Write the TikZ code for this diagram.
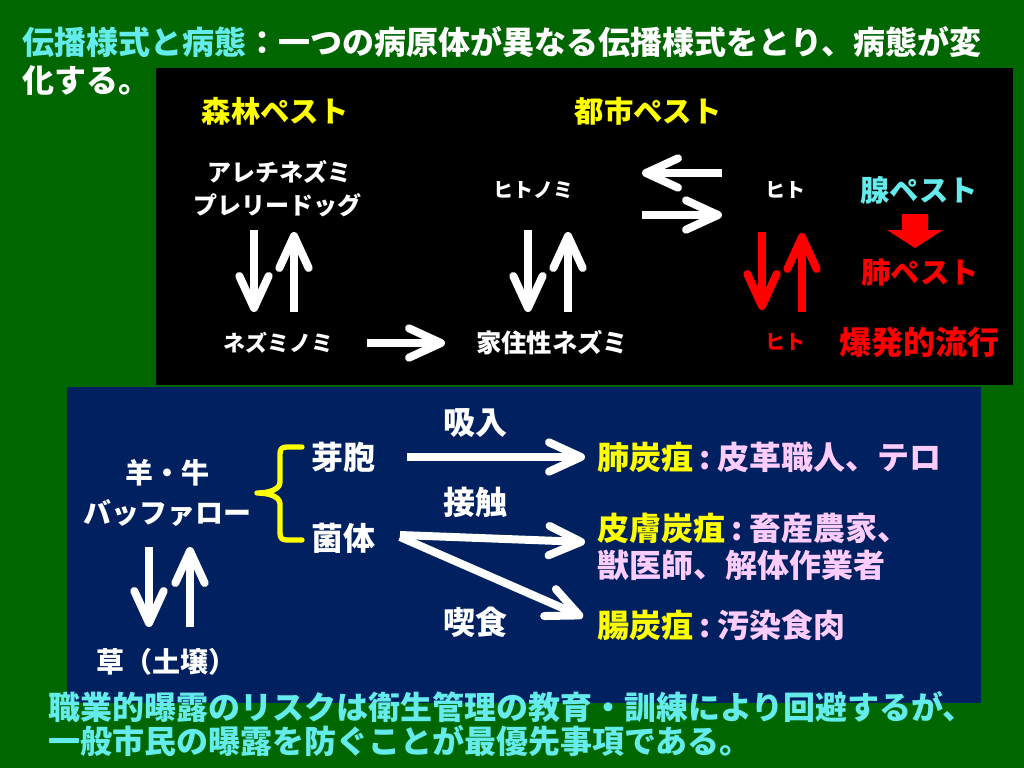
\documentclass[tikz,border=0pt]{standalone}
\usepackage{fontspec}
\setmainfont{Noto Sans CJK JP}
\usetikzlibrary{arrows.meta}
\definecolor{bggreen}{RGB}{0,102,0}
\definecolor{boxblue}{RGB}{0,32,96}
\definecolor{tcyan}{RGB}{100,235,235}
\definecolor{tpink}{RGB}{255,204,255}
\definecolor{tyellow}{RGB}{255,255,0}
\definecolor{tred}{RGB}{255,0,0}
\newcommand{\fsz}[1]{\fontsize{#1}{#1}\selectfont}
\tikzset{
  lbl/.style={inner sep=0pt, font=\bfseries, text=white},
  wa/.style={draw=white, line width=6pt, -{Straight Barb[length=24pt,width=22pt,round]}},
  ra/.style={wa, draw=tred},
  bracestyle/.style={draw=tyellow, line width=4pt, line cap=round, line join=round},
}
\begin{document}
\begin{tikzpicture}[x=0.75pt,y=-0.75pt]
\useasboundingbox (0,0) rectangle (1024,768);
\fill[bggreen] (0,0) rectangle (1024,768);
\fill[black] (156,68) rectangle (1013,385);
\fill[boxblue] (67,387) rectangle (981,703);

% title
\node[lbl, anchor=west] (t1) at (22,42) {\fsz{24pt}{\color{tcyan}伝播様式と病態}：一つの病原体が異なる伝播様式をとり、病態が変};
\node[lbl, anchor=west] (t2) at (22,80) {\fsz{24pt}化する。};

% upper box texts
\node[lbl, text=tyellow] (shinrin) at (275,111) {\fsz{22pt}森林ペスト};
\node[lbl, text=tyellow] (toshi) at (648,111) {\fsz{22pt}都市ペスト};
\node[lbl] (areti) at (279,172) {\fsz{18pt}アレチネズミ};
\node[lbl] (prairie) at (277,205) {\fsz{18pt}プレリードッグ};
\node[lbl] (hitonomi) at (533,190) {\fsz{15pt}ヒトノミ};
\node[lbl] (nezuminomi) at (278,343) {\fsz{16.5pt}ネズミノミ};
\node[lbl] (kaju) at (552,343) {\fsz{19pt}家住性ネズミ};
\node[lbl] (hito1) at (785,190) {\fsz{15pt}ヒト};
\node[lbl, text=tcyan] (sen) at (919,190) {\fsz{22pt}腺ペスト};
\node[lbl, text=tred] (hai) at (920,273) {\fsz{22pt}肺ペスト};
\node[lbl, text=tred] (hito2) at (785,342) {\fsz{15pt}ヒト};
\node[lbl, text=tred] (bakuhatsu) at (919,342) {\fsz{24pt}爆発的流行};

% arrow end points (upper)
\coordinate (a1s) at (254,230); \coordinate (a1e) at (254,312);
\coordinate (a2s) at (294,312); \coordinate (a2e) at (294,232);
\coordinate (a3s) at (528,230); \coordinate (a3e) at (528,312);
\coordinate (a4s) at (568,312); \coordinate (a4e) at (568,232);
\coordinate (a5s) at (367,343); \coordinate (a5e) at (445,343);
\coordinate (a6s) at (722,173); \coordinate (a6e) at (642,173);
\coordinate (a7s) at (642,215); \coordinate (a7e) at (722,215);
\coordinate (a8s) at (762,232); \coordinate (a8e) at (762,310);
\coordinate (a9s) at (802,312); \coordinate (a9e) at (802,233);

\draw[wa] (a1s) -- (a1e);
\draw[wa] (a2s) -- (a2e);
\draw[wa] (a3s) -- (a3e);
\draw[wa] (a4s) -- (a4e);
\draw[wa] (a5s) -- (a5e);
\draw[wa] (a6s) -- (a6e);
\draw[wa] (a7s) -- (a7e);
\draw[ra] (a8s) -- (a8e);
\draw[ra] (a9s) -- (a9e);

% red block arrow
\fill[tred] (902,214) -- (928,214) -- (928,230) -- (943,230) -- (915,248) -- (887,230) -- (902,230) -- cycle;

% lower box texts
\node[lbl] (hitsuji) at (167,473) {\fsz{21pt}羊・牛};
\node[lbl] (buffalo) at (167,513) {\fsz{21pt}バッファロー};
\node[lbl] (kusa) at (166,662) {\fsz{21pt}草（土壌）};
\node[lbl] (gaho) at (343,457) {\fsz{24pt}芽胞};
\node[lbl] (kintai) at (343,538) {\fsz{24pt}菌体};
\node[lbl] (kyunyu) at (475,423) {\fsz{24pt}吸入};
\node[lbl] (sesshoku) at (475,502) {\fsz{24pt}接触};
\node[lbl] (kisshoku) at (475,622) {\fsz{24pt}喫食};
\node[lbl, anchor=west] (r1) at (597,457) {\fsz{24pt}{\color{tyellow}肺炭疽}{\color{tpink}\hspace{0.2em}:\hspace{0.2em}皮革職人、テロ}};
\node[lbl, anchor=west] (r2) at (597,528) {\fsz{24pt}{\color{tyellow}皮膚炭疽}{\color{tpink}\hspace{0.2em}:\hspace{0.2em}畜産農家、}};
\node[lbl, anchor=west, text=tpink] (r3) at (597,565) {\fsz{24pt}獣医師、解体作業者};
\node[lbl, anchor=west] (r4) at (597,625) {\fsz{24pt}{\color{tyellow}腸炭疽}{\color{tpink}\hspace{0.2em}:\hspace{0.2em}汚染食肉}};

% brace
\draw[bracestyle] (302,447) -- (287,447) .. controls (282,447) and (280,449) .. (280,454) -- (280,482)
  .. controls (280,489) and (270,493) .. (257,493) .. controls (270,493) and (280,497) .. (280,504)
  -- (280,533) .. controls (280,538) and (282,540) .. (287,540) -- (302,540);

% lower arrows
\coordinate (b1s) at (149,547); \coordinate (b1e) at (149,627);
\coordinate (b2s) at (190,627); \coordinate (b2e) at (190,547);
\coordinate (b3s) at (407,457); \coordinate (b3e) at (585,457);
\coordinate (b4s) at (400,535); \coordinate (b4e) at (585,542);
\coordinate (b5s) at (400,537); \coordinate (b5e) at (583,617);
\draw[wa] (b1s) -- (b1e);
\draw[wa] (b2s) -- (b2e);
\draw[wa] (b3s) -- (b3e);
\draw[wa] (b4s) -- (b4e);
\draw[wa] (b5s) -- (b5e);

% bottom text
\node[lbl, anchor=west, text=tcyan] (c1) at (48,707) {\fsz{24pt}職業的曝露のリスクは衛生管理の教育・訓練により回避するが、};
\node[lbl, anchor=west, text=tcyan] (c2) at (48,741) {\fsz{24pt}一般市民の曝露を防ぐことが最優先事項である。};
\end{tikzpicture}
\end{document}
